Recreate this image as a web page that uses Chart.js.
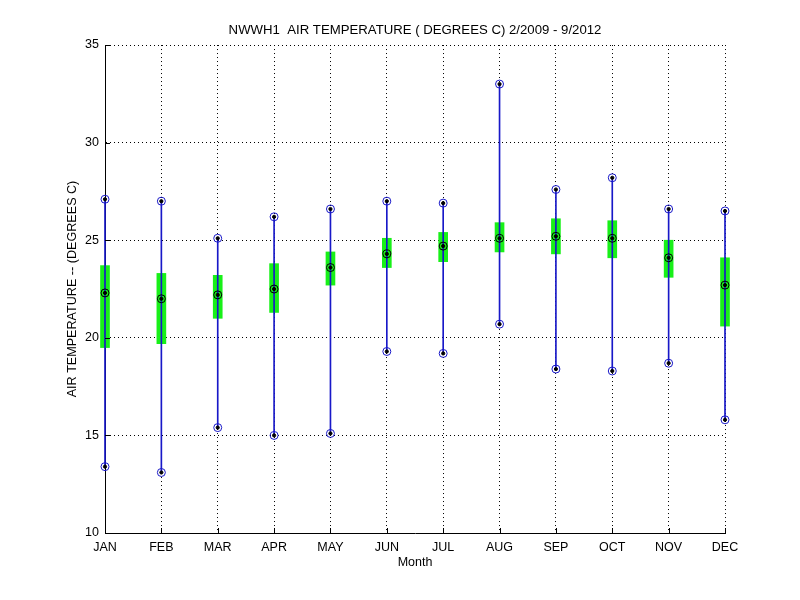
<!DOCTYPE html>
<html>
<head>
<meta charset="utf-8">
<script src="https://cdn.jsdelivr.net/npm/chart.js@4.4.1/dist/chart.umd.min.js"></script>
<style>
html,body{margin:0;padding:0;background:#fff;}
#wrap{width:800px;height:600px;}
</style>
</head>
<body>
<div id="wrap"><canvas id="c" width="800" height="600"></canvas></div>
<script>
const months = ['JAN','FEB','MAR','APR','MAY','JUN','JUL','AUG','SEP','OCT','NOV','DEC'];
const maxTemp  = [27.1, 27.0, 25.1, 26.2, 26.6, 27.0, 26.9, 33.0, 27.6, 28.2, 26.6, 26.5];
const minTemp  = [13.4, 13.1, 15.4, 15.0, 15.1, 19.3, 19.2, 20.7, 18.4, 18.3, 18.7, 15.8];
const meanTemp = [22.3, 22.0, 22.2, 22.5, 23.6, 24.3, 24.7, 25.1, 25.2, 25.1, 24.1, 22.7];
const boxHigh  = [23.7, 23.3, 23.2, 23.8, 24.4, 25.1, 25.4, 25.9, 26.1, 26.0, 25.0, 24.1];
const boxLow   = [19.5, 19.7, 21.0, 21.3, 22.7, 23.6, 23.9, 24.4, 24.3, 24.1, 23.1, 20.6];

const FONT = 'Liberation Sans, Arial, Helvetica, sans-serif';
const BLUE = '#1818c8';
const GREEN = '#18f018';

const inwardTicks = {
  id: 'inwardTicks',
  afterDatasetsDraw(chart) {
    const ctx = chart.ctx, x = chart.scales.x, y = chart.scales.y;
    const a = chart.chartArea;
    ctx.save();
    ctx.strokeStyle = '#000';
    ctx.lineWidth = 1;
    ctx.beginPath();
    y.ticks.forEach((t, i) => {
      const py = Math.round(y.getPixelForTick(i)) + 0.5;
      ctx.moveTo(a.left, py); ctx.lineTo(a.left + 5, py);
    });
    x.ticks.forEach((t, i) => {
      const px = Math.round(x.getPixelForTick(i)) + 0.5;
      ctx.moveTo(px, a.bottom); ctx.lineTo(px, a.bottom - 5);
    });
    ctx.stroke();
    ctx.restore();
  }
};

const pointSet = (label, data, color, radius, fill, order) => ({
  type: 'line', label, data, showLine: false, clip: false, order,
  pointStyle: 'circle', pointRadius: radius, pointHoverRadius: radius,
  pointBorderColor: color, pointBackgroundColor: fill, pointBorderWidth: 1
});

new Chart(document.getElementById('c'), {
  type: 'bar',
  data: {
    labels: months,
    datasets: [
      { type: 'bar', label: 'std', data: months.map((m, i) => [boxLow[i], boxHigh[i]]),
        backgroundColor: GREEN, borderWidth: 0, barThickness: 9, grouped: false, clip: false, order: 10 },
      { type: 'bar', label: 'range', data: months.map((m, i) => [minTemp[i], maxTemp[i]]),
        backgroundColor: BLUE, borderWidth: 0, barThickness: 1, grouped: false, clip: false, order: 9 },
      pointSet('mean', meanTemp, '#000', 4, 'rgba(0,0,0,0)', 4),
      pointSet('max', maxTemp, BLUE, 4, 'rgba(0,0,0,0)', 3),
      pointSet('min', minTemp, BLUE, 4, 'rgba(0,0,0,0)', 3),
      pointSet('meanDot', meanTemp, '#000', 1.6, '#000', 1),
      pointSet('maxDot', maxTemp, '#000', 1.6, '#000', 1),
      pointSet('minDot', minTemp, '#000', 1.6, '#000', 1)
    ]
  },
  options: {
    responsive: false,
    animation: false,
    events: [],
    layout: { padding: { left: 0, right: 75, top: 0, bottom: 0 } },
    plugins: {
      legend: { display: false },
      tooltip: { enabled: false },
      title: {
        display: true, fullSize: false,
        text: 'NWWH1  AIR TEMPERATURE ( DEGREES C) 2/2009 - 9/2012',
        color: '#000', font: { family: FONT, size: 13.2, weight: 'normal' },
        padding: { top: 22, bottom: 7.2 }
      }
    },
    scales: {
      x: {
        type: 'category', offset: false,
        afterFit: s => { s.height = 67; },
        grid: { color: '#000', lineWidth: 1, drawTicks: false, offset: false },
        border: { display: true, color: '#000', width: 1, dash: [1, 3] },
        ticks: { color: '#000', font: { family: FONT, size: 12.5 }, padding: 7, maxRotation: 0, autoSkip: false },
        title: { display: true, text: 'Month', color: '#000', font: { family: FONT, size: 12.5 }, padding: { top: 0, bottom: 30 } }
      },
      y: {
        min: 10, max: 35,
        afterFit: s => { s.width = 105; },
        grid: { color: '#000', lineWidth: 1, drawTicks: false },
        border: { display: true, color: '#000', width: 1, dash: [1, 3] },
        ticks: { stepSize: 5, color: '#000', font: { family: FONT, size: 12.5 }, padding: 6 },
        title: { display: true, text: 'AIR TEMPERATURE -- (DEGREES C)', color: '#000', font: { family: FONT, size: 12.6 }, padding: { top: 65, bottom: 0 } }
      }
    }
  },
  plugins: [inwardTicks]
});
</script>
</body>
</html>
